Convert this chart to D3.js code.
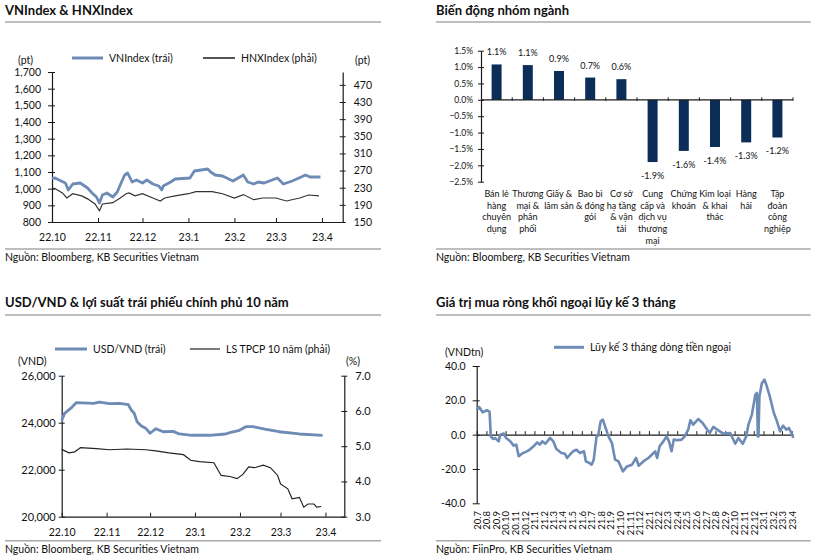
<!DOCTYPE html>
<html><head><meta charset="utf-8">
<script src="https://cdn.jsdelivr.net/npm/d3@7"></script>
<style>
body{margin:0;background:#fff;}
svg{font-family:Lato,"Noto Sans",sans-serif;display:block;}
</style></head><body>
<svg id="c" width="827" height="558"></svg>
<script>
// ---------------- DATA ----------------
// Chart 1: VNIndex & HNXIndex
const vnDates = ["2022-10-01","2022-10-03","2022-10-10","2022-10-12","2022-10-15","2022-10-20","2022-10-25","2022-10-28","2022-10-31","2022-11-02","2022-11-04","2022-11-07","2022-11-11","2022-11-14","2022-11-16","2022-11-19","2022-11-21","2022-11-24","2022-11-27","2022-12-01","2022-12-04","2022-12-08","2022-12-12","2022-12-14","2022-12-15","2022-12-20","2022-12-23","2023-01-02","2023-01-05","2023-01-14","2023-01-16","2023-01-19","2023-01-24","2023-01-31","2023-02-07","2023-02-10","2023-02-14","2023-02-17","2023-02-21","2023-03-02","2023-03-06","2023-03-12","2023-03-21","2023-03-24","2023-03-31"];
const vnValues = [1062,1064,1034,992,1028,1034,1004,974,950,914,962,974,950,980,1022,1082,1094,1040,1052,1034,1052,1028,1016,992,1016,1040,1058,1064,1106,1118,1100,1082,1076,1046,1082,1040,1028,1040,1034,1064,1028,1046,1082,1070,1070];
const hnxDates = ["2022-10-01","2022-10-03","2022-10-08","2022-10-11","2022-10-15","2022-10-21","2022-10-25","2022-10-30","2022-11-02","2022-11-04","2022-11-11","2022-11-16","2022-11-20","2022-11-22","2022-11-26","2022-12-01","2022-12-08","2022-12-13","2022-12-16","2022-12-23","2023-01-01","2023-01-06","2023-01-17","2023-01-24","2023-02-01","2023-02-07","2023-02-14","2023-02-20","2023-03-01","2023-03-08","2023-03-17","2023-03-23","2023-03-30"];
const hnxValues = [229,228,218,206,216,211,204,192,176,192,195,206,216,218,211,216,206,199,206,211,216,221,221,216,206,214,202,206,206,199,206,213,211];
const c1LeftTicks = [800,900,1000,1100,1200,1300,1400,1500,1600,1700];
const c1RightTicks = [150,190,230,270,310,350,390,430,470];
const c1MonthTicks = ["2022-10-01","2022-11-01","2022-12-01","2023-01-01","2023-02-01","2023-03-01","2023-04-01"];

// Chart 2: sector moves
const sectorNames = [
  ["Bán lẻ","hàng","chuyên","dụng"],
  ["Thương","mại &","phân","phối"],
  ["Giấy &","lâm sản"],
  ["Bao bì","& đóng","gói"],
  ["Cơ sở","hạ tầng","& vận","tải"],
  ["Cung","cấp và","dịch vụ","thương","mại"],
  ["Chứng","khoán"],
  ["Kim loại","& khai","thác"],
  ["Hàng","hải"],
  ["Tập","đoàn","công","nghiệp"]
];
const sectorValues = [1.08,1.06,0.88,0.68,0.63,-1.90,-1.56,-1.44,-1.30,-1.15];
const sectorLabels = ["1.1%","1.1%","0.9%","0.7%","0.6%","-1.9%","-1.6%","-1.4%","-1.3%","-1.2%"];
const c2Ticks = [1.5,1.0,0.5,0.0,-0.5,-1.0,-1.5,-2.0,-2.5];

// Chart 3: USD/VND & 10y government bond yield
const usdDates = ["2022-10-01","2022-10-03","2022-10-08","2022-10-11","2022-10-23","2022-10-27","2022-11-03","2022-11-10","2022-11-16","2022-11-18","2022-11-20","2022-11-22","2022-11-25","2022-11-28","2022-12-01","2022-12-05","2022-12-10","2022-12-17","2022-12-21","2022-12-30","2023-01-11","2023-01-22","2023-01-25","2023-01-31","2023-02-05","2023-02-10","2023-02-19","2023-02-28","2023-03-14","2023-03-30"];
const usdValues = [24085,24400,24655,24850,24825,24880,24810,24825,24765,24540,24400,24045,23860,23760,23550,23745,23615,23630,23520,23465,23465,23520,23575,23660,23830,23830,23720,23615,23520,23465];
const bondDates = ["2022-10-01","2022-10-06","2022-10-10","2022-10-14","2022-10-25","2022-11-03","2022-11-15","2022-11-28","2022-12-05","2022-12-14","2022-12-24","2022-12-29","2023-01-04","2023-01-14","2023-01-19","2023-01-25","2023-01-30","2023-02-03","2023-02-07","2023-02-11","2023-02-17","2023-02-22","2023-02-27","2023-03-01","2023-03-06","2023-03-09","2023-03-14","2023-03-17","2023-03-20","2023-03-24","2023-03-26","2023-03-29"];
const bondValues = [4.91,4.81,4.84,4.96,4.93,4.90,4.92,4.90,4.87,4.81,4.76,4.60,4.56,4.53,4.17,4.14,4.08,4.20,4.41,4.39,4.46,4.39,4.17,3.93,3.79,3.51,3.55,3.27,3.36,3.36,3.27,3.29];
const c3LeftTicks = [20000,22000,24000,26000];
const c3RightTicks = [3,4,5,6,7];

// Chart 4: foreign net buying, 3-month cumulative (VND trillion)
const flowDates = ["2020-07-01","2020-07-09","2020-07-20","2020-08-02","2020-08-11","2020-08-15","2020-08-22","2020-08-29","2020-09-09","2020-09-14","2020-09-25","2020-10-03","2020-10-16","2020-10-27","2020-11-04","2020-11-12","2020-11-22","2020-12-08","2020-12-19","2020-12-29","2021-01-10","2021-01-18","2021-01-26","2021-02-05","2021-02-20","2021-03-02","2021-03-12","2021-03-28","2021-04-08","2021-04-15","2021-04-24","2021-05-04","2021-05-15","2021-05-26","2021-06-08","2021-06-14","2021-06-25","2021-07-02","2021-07-09","2021-07-18","2021-07-23","2021-07-31","2021-08-07","2021-08-14","2021-08-25","2021-09-05","2021-09-15","2021-09-26","2021-10-10","2021-10-23","2021-11-08","2021-11-21","2021-11-29","2021-12-14","2021-12-30","2022-01-10","2022-01-21","2022-01-27","2022-02-04","2022-02-16","2022-02-26","2022-03-06","2022-03-14","2022-03-21","2022-04-01","2022-04-15","2022-04-25","2022-05-06","2022-05-13","2022-05-22","2022-06-07","2022-06-21","2022-07-06","2022-07-14","2022-07-25","2022-08-10","2022-08-26","2022-09-17","2022-10-03","2022-10-13","2022-10-27","2022-11-07","2022-11-14","2022-11-25","2022-12-06","2022-12-11","2022-12-14","2022-12-16","2022-12-19","2022-12-27","2023-01-04","2023-01-10","2023-01-21","2023-02-03","2023-02-13","2023-02-23","2023-03-04","2023-03-15","2023-03-23","2023-04-01","2023-04-06"];
const flowValues = [14.6,16.1,13.0,14.2,13.4,-1.0,-2.5,-2.0,-3.9,0.0,0.6,-2.0,-3.9,-6.4,-5.8,-12.6,-11.1,-9.7,-8.4,-6.8,-4.5,-5.8,-3.9,-5.3,-1.9,-3.9,-8.4,-10.7,-11.1,-13.6,-11.7,-9.7,-8.8,-10.7,-9.7,-15.6,-16.5,-17.5,-14.6,-1.0,-0.6,7.8,8.75,4.9,-1.0,-4.9,-14.6,-15.6,-21.4,-18.5,-17.5,-13.6,-18.1,-15.6,-13.6,-11.7,-9.7,-13.6,-6.8,-3.9,-1.0,-3.9,-9.7,-2.9,-3.3,-2.9,-1.0,2.9,8.4,5.8,9.1,6.8,2.9,1.0,4.5,2.5,0.6,1.0,-5.3,-1.9,-5.3,-1.0,5.8,11.7,23.3,24.3,-1.0,-1.0,22.3,30.1,32.0,29.1,22.3,12.6,7.8,1.9,5.2,2.9,3.9,0.6,-1.9];
const c4Ticks = [-40,-20,0,20,40];

// ---------------- DRAWING ----------------
const svg = d3.select("#c");
svg.append("rect").attr("width",827).attr("height",558).attr("fill","#fff");
const parse = d3.timeParse("%Y-%m-%d");
const BLUE = "#6d8bb5";
const AX = "#1a1a1a";

function panelFrame(x0, x1, titleY, ruleTop, ruleBot, title, source) {
  svg.append("text").attr("x",x0).attr("y",titleY).attr("font-size",13).attr("font-weight","bold").attr("fill","#111").text(title);
  [ruleTop, ruleBot].forEach(y => svg.append("line").attr("x1",x0).attr("x2",x1).attr("y1",y).attr("y2",y)
      .attr("stroke","#a8a8a8").attr("stroke-width",1.5));
  svg.append("text").attr("x",x0).attr("y",ruleBot+12).attr("font-size",10.5).attr("fill","#111").text(source);
}
function legendLine(x1, x2, y, color, w, label) {
  svg.append("line").attr("x1",x1).attr("x2",x2).attr("y1",y).attr("y2",y).attr("stroke",color).attr("stroke-width",w);
  svg.append("text").attr("x",x2+6).attr("y",y+3.5).attr("font-size",10.5).attr("fill","#111").text(label);
}
function label(x, y, t, size, anchor) {
  svg.append("text").attr("x",x).attr("y",y).attr("font-size",size||10.5).attr("text-anchor",anchor||"start").attr("fill","#111").text(t);
}
function styleAxis(g, size) {
  g.attr("font-family",null).attr("font-size",size);
  g.selectAll("path.domain").attr("stroke",AX).attr("stroke-width",1.2);
  g.selectAll(".tick text").attr("fill","#111");
  g.selectAll(".tick line").attr("stroke",AX);
}

// ===== Chart 1 =====
panelFrame(5, 381, 15, 22, 249, "VNIndex & HNXIndex", "Nguồn: Bloomberg, KB Securities Vietnam");
{
  const x = d3.scaleTime().domain([parse("2022-10-01"), parse("2023-04-15")]).range([52, 342.7]);
  const yL = d3.scaleLinear().domain([800,1700]).range([222,72]);
  const yR = d3.scaleLinear().domain([150,500]).range([222,72]);
  const gL = svg.append("g").attr("transform","translate(52,0)")
    .call(d3.axisLeft(yL).tickValues(c1LeftTicks).tickFormat(d3.format(",")).tickSizeOuter(0).tickSize(0).tickPadding(11));
  styleAxis(gL, 10.5); gL.selectAll(".tick line").attr("x1",-4).attr("x2",3);
  const gR = svg.append("g").attr("transform","translate(342.7,0)")
    .call(d3.axisRight(yR).tickValues(c1RightTicks).tickSizeOuter(0).tickSize(0).tickPadding(11));
  styleAxis(gR, 10.5); gR.selectAll(".tick line").attr("x1",-3).attr("x2",3);
  const gX = svg.append("g").attr("transform","translate(0,222)")
    .call(d3.axisBottom(x).tickValues(c1MonthTicks.map(parse)).tickFormat(d3.timeFormat("%y.%-m")).tickSizeOuter(0).tickSize(0).tickPadding(12));
  styleAxis(gX, 10.5); gX.selectAll(".tick line").attr("y1",0).attr("y2",-4);
  const hnx = hnxDates.map((d,i)=>[parse(d), hnxValues[i]]);
  const vn = vnDates.map((d,i)=>[parse(d), vnValues[i]]);
  svg.append("path").datum(hnx).attr("fill","none").attr("stroke","#333").attr("stroke-width",1.2)
    .attr("d", d3.line().x(d=>x(d[0])).y(d=>yR(d[1])));
  svg.append("path").datum(vn).attr("fill","none").attr("stroke",BLUE).attr("stroke-width",2.8).attr("stroke-linejoin","round")
    .attr("d", d3.line().x(d=>x(d[0])).y(d=>yL(d[1])));
  legendLine(72, 103, 58, BLUE, 3, "VNIndex (trái)");
  legendLine(203, 235, 58, "#555", 2, "HNXIndex (phải)");
  label(18, 64, "(pt)");
  label(355, 64, "(pt)");
}

// ===== Chart 2 =====
panelFrame(436, 810.7, 15, 22, 249, "Biến động nhóm ngành", "Nguồn: Bloomberg, KB Securities Vietnam");
{
  const names = sectorNames.map(d=>d.join(" "));
  const x = d3.scaleBand().domain(names).range([481, 793]).paddingInner(0.68).paddingOuter(0.34);
  const y = d3.scaleLinear().domain([-2.5,1.5]).range([181.7,50.7]);
  svg.selectAll("rect.bar").data(sectorValues).enter().append("rect").attr("class","bar")
    .attr("x",(d,i)=>x(names[i])).attr("width",x.bandwidth())
    .attr("y",d=>y(Math.max(0,d))).attr("height",d=>Math.abs(y(d)-y(0)))
    .attr("fill","#0c2d57");
  const gY = svg.append("g").attr("transform","translate(481,0)")
    .call(d3.axisLeft(y).tickValues(c2Ticks).tickFormat(d=>d3.format(".1f")(d)+"%").tickSizeOuter(0).tickSize(0).tickPadding(8));
  styleAxis(gY, 8.5); gY.selectAll(".tick line").attr("x1",-3).attr("x2",3);
  // category axis at zero
  const gX = svg.append("g").attr("transform",`translate(0,${y(0)})`);
  gX.append("line").attr("x1",481).attr("x2",793).attr("stroke",AX).attr("stroke-width",1.2);
  const bounds = names.map((n,i)=>x(n) - x.step()*x.paddingInner()/2 + x.step()).slice(0);
  gX.selectAll("line.b").data(bounds).enter().append("line").attr("class","b")
    .attr("x1",d=>d).attr("x2",d=>d).attr("y1",-2.5).attr("y2",1).attr("stroke",AX);
  // value labels
  svg.selectAll("text.val").data(sectorValues).enter().append("text").attr("class","val")
    .attr("x",(d,i)=>x(names[i])+x.bandwidth()/2)
    .attr("y",d=> d>=0 ? y(d)-9 : y(d)+17)
    .attr("text-anchor","middle").attr("font-size",9).attr("fill","#111")
    .text((d,i)=>sectorLabels[i]);
  // category labels
  sectorNames.forEach((lines,i)=>{
    const t = svg.append("text").attr("text-anchor","middle").attr("font-size",9).attr("fill","#111");
    lines.forEach((ln,j)=>t.append("tspan").attr("x",x(names[i])+x.bandwidth()/2).attr("y",197+j*11.7).text(ln));
  });
}

// ===== Chart 3 =====
panelFrame(5, 381, 307, 315, 540.7, "USD/VND & lợi suất trái phiếu chính phủ 10 năm", "Nguồn: Bloomberg, KB Securities Vietnam");
{
  const x = d3.scaleTime().domain([parse("2022-10-01"), parse("2023-04-14")]).range([61.7, 344.3]);
  const yL = d3.scaleLinear().domain([20000,26000]).range([516.7,375.7]);
  const yR = d3.scaleLinear().domain([3,7]).range([516.7,375.7]);
  const gL = svg.append("g").attr("transform","translate(61.7,0)")
    .call(d3.axisLeft(yL).tickValues(c3LeftTicks).tickFormat(d3.format(",")).tickSizeOuter(0).tickSize(0).tickPadding(6));
  styleAxis(gL, 11); gL.selectAll(".tick line").attr("x1",-3).attr("x2",3);
  const gR = svg.append("g").attr("transform","translate(344.3,0)")
    .call(d3.axisRight(yR).tickValues(c3RightTicks).tickFormat(d3.format(".1f")).tickSizeOuter(0).tickSize(0).tickPadding(11));
  styleAxis(gR, 11); gR.selectAll(".tick line").attr("x1",-3).attr("x2",3);
  const gX = svg.append("g").attr("transform","translate(0,516.7)")
    .call(d3.axisBottom(x).tickValues(c1MonthTicks.map(parse)).tickFormat(d3.timeFormat("%y.%-m")).tickSizeOuter(0).tickSize(0).tickPadding(12));
  styleAxis(gX, 10.5); gX.selectAll(".tick line").attr("y1",0).attr("y2",-4);
  const bond = bondDates.map((d,i)=>[parse(d), bondValues[i]]);
  const usd = usdDates.map((d,i)=>[parse(d), usdValues[i]]);
  svg.append("path").datum(bond).attr("fill","none").attr("stroke","#222").attr("stroke-width",1.2)
    .attr("d", d3.line().x(d=>x(d[0])).y(d=>yR(d[1])));
  svg.append("path").datum(usd).attr("fill","none").attr("stroke",BLUE).attr("stroke-width",2.8).attr("stroke-linejoin","round")
    .attr("d", d3.line().x(d=>x(d[0])).y(d=>yL(d[1])));
  legendLine(55, 87, 349, BLUE, 3, "USD/VND (trái)");
  legendLine(190, 220, 349, "#222", 1.2, "LS TPCP 10 năm (phải)");
  label(18, 365, "(VND)");
  label(346, 365, "(%)");
}

// ===== Chart 4 =====
panelFrame(436, 810.7, 307, 315, 540.7, "Giá trị mua ròng khối ngoại lũy kế 3 tháng", "Nguồn: FiinPro, KB Securities Vietnam");
{
  const x = d3.scaleTime().domain([parse("2020-07-01"), parse("2023-04-06")]).range([476.7, 793.3]);
  const y = d3.scaleLinear().domain([-40,40]).range([503.3,366]);
  const months = d3.timeMonth.range(parse("2020-07-01"), parse("2023-04-02"));
  const gY = svg.append("g").attr("transform","translate(476.7,0)")
    .call(d3.axisLeft(y).tickValues(c4Ticks).tickFormat(d3.format(".1f")).tickSizeOuter(0).tickSize(0).tickPadding(11));
  styleAxis(gY, 10.5); gY.selectAll(".tick line").attr("x1",-4).attr("x2",3);
  gY.selectAll(".tick text").text(d=>d3.format(".1f")(d).replace("−","-"));
  const gX = svg.append("g").attr("transform",`translate(0,${y(0)})`)
    .call(d3.axisBottom(x).tickValues(months).tickFormat("").tickSizeOuter(0).tickSize(0));
  styleAxis(gX, 9); gX.selectAll(".tick line").attr("y1",0).attr("y2",-3.5);
  const gXL = svg.append("g").attr("transform","translate(0,511)")
    .call(d3.axisBottom(x).tickValues(months).tickFormat(d3.timeFormat("%y.%-m")).tickSizeOuter(0).tickSize(0).tickPadding(0));
  gXL.attr("font-family",null).attr("font-size",9.5);
  gXL.select("path.domain").remove();
  gXL.selectAll(".tick text").attr("fill","#111").attr("text-anchor","end").attr("dy",null).attr("y",0)
    .attr("transform","translate(3.3,0) rotate(-90)");
  const flow = flowDates.map((d,i)=>[parse(d), flowValues[i]]);
  svg.append("path").datum(flow).attr("fill","none").attr("stroke",BLUE).attr("stroke-width",2.6).attr("stroke-linejoin","round")
    .attr("d", d3.line().x(d=>x(d[0])).y(d=>y(d[1])));
  legendLine(554, 584, 347.3, BLUE, 3, "Lũy kế 3 tháng dòng tiền ngoại");
  label(445, 355.5, "(VNDtn)");
}
</script>
</body></html>
